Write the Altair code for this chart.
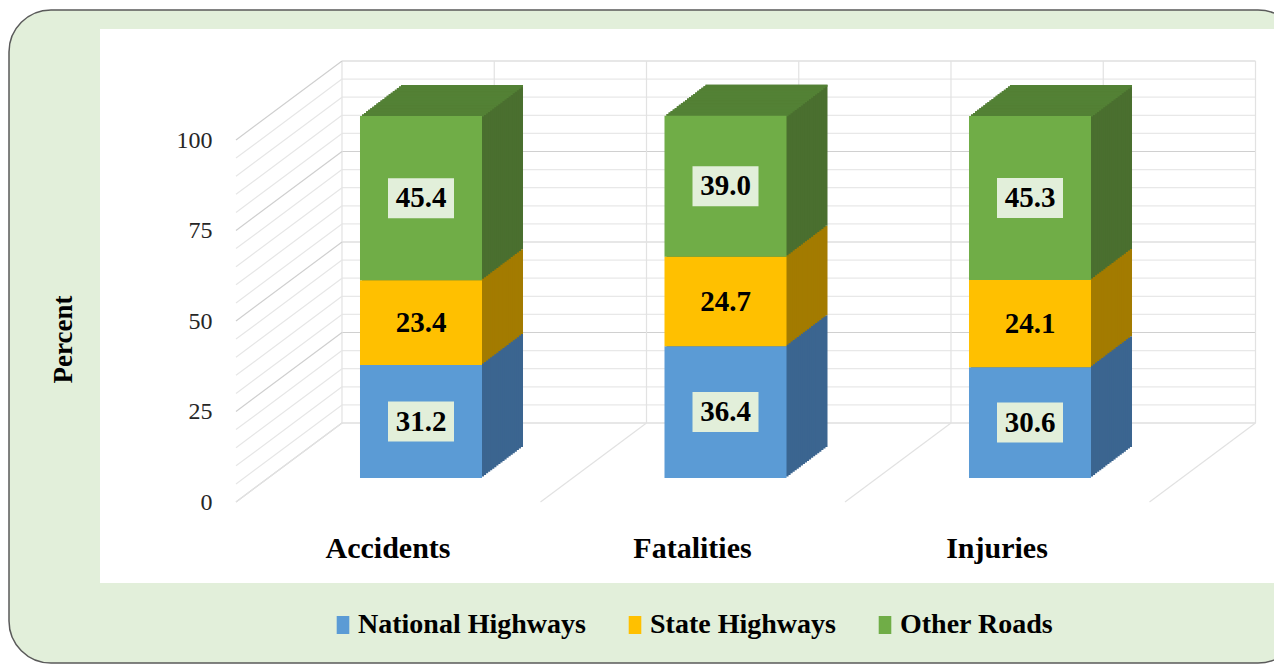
import altair as alt
import pandas as pd

# ---------------- data ----------------
categories = ["Accidents", "Fatalities", "Injuries"]
series_names = ["National Highways", "State Highways", "Other Roads"]
national_highways = [31.2, 36.4, 30.6]
state_highways = [23.4, 24.7, 24.1]
other_roads = [45.4, 39.0, 45.3]
y_tick_values = [0, 25, 50, 75, 100]
wall_grid_values = list(range(0, 101, 5))

# ---------------- styles ----------------
FRONT = ["#5b9bd5", "#ffc000", "#70ad47"]
SIDE = ["#3b6590", "#a37b00", "#4a6f2f"]
TOP = "#538135"
BOX = "#e2efda"
BG = "#e2efda"
SERIF = "Liberation Serif"

series_values = [national_highways, state_highways, other_roads]
rows = []
for ci, cat in enumerate(categories):
    base = 0.0
    for si, name in enumerate(series_names):
        v = series_values[si][ci]
        rows.append(dict(cat=cat, series=name, order=si, value=v,
                         y0=base, y1=base + v, mid=base + v / 2,
                         side=SIDE[si], boxed=(si != 1)))
        base += v
df = pd.DataFrame(rows)
df_top = df[df["order"] == 2]
df_box = df[df["boxed"]]
grid_df = pd.DataFrame({"v": wall_grid_values})
blank = pd.DataFrame({"a": [0]})

# ---------------- geometry ----------------
PLOT_W, PLOT_H = 1174, 554
N = 20
DX, DY = 41.0, 31.0
sx, sy = DX / N, DY / N
WALL_X0, WALL_STEP, WALL_DY = 242, 152.25, -55
FRONT_X0, FRONT_DY = 136, 24

Y_SCALE = alt.Scale(domain=[0, 100], range=[449, 87], nice=False, zero=True)
Y_AXIS = alt.Axis(values=y_tick_values, title="Percent", grid=False, domain=False,
                  ticks=False, tickSize=0, labelPadding=0, offset=-112, labelOffset=24,
                  labelFont=SERIF, labelFontSize=24, labelColor="#262626", labelFlush=False,
                  titleFont=SERIF, titleFontSize=27, titleFontWeight="bold", titleColor="black",
                  titleAngle=270, titleX=-149, titleY=310, titleAlign="center",
                  titleBaseline="middle", zindex=1)
X_ENC = alt.X("cat:N", sort=categories,
              scale=alt.Scale(domain=categories, range=[168.75, 1082.25],
                              paddingInner=0.5993, paddingOuter=0.29965),
              axis=alt.Axis(title=None, labelAngle=0, domain=False, ticks=False, tickSize=0,
                            grid=False, labelPadding=-35, labelBaseline="middle",
                            labelOffset=-33, labelFont=SERIF, labelFontSize=30,
                            labelFontWeight="bold", labelColor="black", zindex=1))


def Y(field):
    return alt.Y(field, scale=Y_SCALE, axis=Y_AXIS)


layers = []
# frame + white plot box
layers.append(alt.Chart(blank).mark_rect(fill=BG, stroke="#5a5a5a", strokeWidth=1.5,
                                         cornerRadius=42).encode(
    x=alt.value(-91), x2=alt.value(1200), y=alt.value(-19), y2=alt.value(634)))
layers.append(alt.Chart(blank).mark_rect(fill="white").encode(
    x=alt.value(0), x2=alt.value(PLOT_W), y=alt.value(0), y2=alt.value(PLOT_H)))

# back wall horizontal gridlines
for cond, col in [("datum.v % 25 != 0", "#e8e8e8"), ("datum.v % 25 == 0", "#d0d0d0")]:
    layers.append(alt.Chart(grid_df).transform_filter(cond).mark_rule(
        color=col, strokeWidth=1.2, yOffset=WALL_DY).encode(
        y=Y("v:Q"), x=alt.value(WALL_X0), x2=alt.value(WALL_X0 + 6 * WALL_STEP)))
# back wall vertical gridlines
for k in range(7):
    layers.append(alt.Chart(blank).mark_rule(
        color="#e2e2e2", strokeWidth=1.2, yOffset=WALL_DY, y2Offset=WALL_DY).encode(
        x=alt.value(WALL_X0 + k * WALL_STEP), y=alt.Y(datum=0, scale=Y_SCALE, axis=Y_AXIS),
        y2=alt.Y2(datum=100)))
# side wall diagonals
for cond, col in [("datum.v % 25 != 0", "#e6e6e6"), ("datum.v % 25 == 0", "#cfcfcf")]:
    layers.append(alt.Chart(grid_df).transform_filter(cond).mark_rule(
        color=col, strokeWidth=1.2, yOffset=FRONT_DY, y2Offset=WALL_DY).encode(
        y=Y("v:Q"), y2="v:Q", x=alt.value(FRONT_X0), x2=alt.value(WALL_X0)))
# floor diagonals
for k in range(4):
    layers.append(alt.Chart(blank).mark_rule(
        color="#e2e2e2", strokeWidth=1.2, yOffset=FRONT_DY, y2Offset=WALL_DY).encode(
        x=alt.value(FRONT_X0 + k * 2 * WALL_STEP), x2=alt.value(WALL_X0 + k * 2 * WALL_STEP),
        y=alt.Y(datum=0, scale=Y_SCALE, axis=Y_AXIS), y2=alt.Y2(datum=0)))

# 3-D side faces (extrusion)
for k in range(N, 0, -1):
    layers.append(alt.Chart(df).mark_bar(xOffset=k * sx, yOffset=-k * sy,
                                         y2Offset=-k * sy).encode(
        x=X_ENC, y=Y("y1:Q"), y2="y0:Q", fill=alt.Fill("side:N", scale=None)))
# top faces
for k in range(N, 0, -1):
    layers.append(alt.Chart(df_top).mark_bar(color=TOP, xOffset=k * sx, yOffset=-k * sy,
                                             y2Offset=-(k - 1) * sy + 0.6).encode(
        x=X_ENC, y=Y("y1:Q"), y2="y1:Q"))

# front faces
layers.append(alt.Chart(df).mark_bar().encode(
    x=X_ENC, y=Y("y1:Q"), y2="y0:Q",
    color=alt.Color("series:N", sort=series_names,
                    scale=alt.Scale(domain=series_names, range=FRONT),
                    legend=alt.Legend(orient="none", legendX=229, legendY=582,
                                      direction="horizontal", title=None,
                                      labelFont=SERIF, labelFontSize=28,
                                      labelFontWeight="bold", labelColor="black",
                                      symbolType="M-0.7,-1L0.7,-1L0.7,1L-0.7,1Z",
                                      symbolSize=324, symbolStrokeWidth=0,
                                      labelOffset=1, columnPadding=35, labelLimit=400,
                                      zindex=1))))
# label boxes
layers.append(alt.Chart(df_box).mark_bar(color=BOX, width=66, yOffset=-20, y2Offset=20).encode(
    x=X_ENC, y=Y("mid:Q"), y2="mid:Q"))
# value labels
layers.append(alt.Chart(df).mark_text(font=SERIF, fontWeight="bold", fontSize=29,
                                      color="black", baseline="middle").encode(
    x=X_ENC, y=Y("mid:Q"), text=alt.Text("value:Q", format=".1f")))

chart = alt.layer(*layers).properties(
    width=PLOT_W, height=PLOT_H,
    padding={"left": 92, "top": 21, "right": 0, "bottom": 81},
    autosize=alt.AutoSizeParams(type="none"),
    background="white",
).configure_view(stroke=None)

chart.save("out.html", embed_options={"renderer": "svg", "actions": False})
